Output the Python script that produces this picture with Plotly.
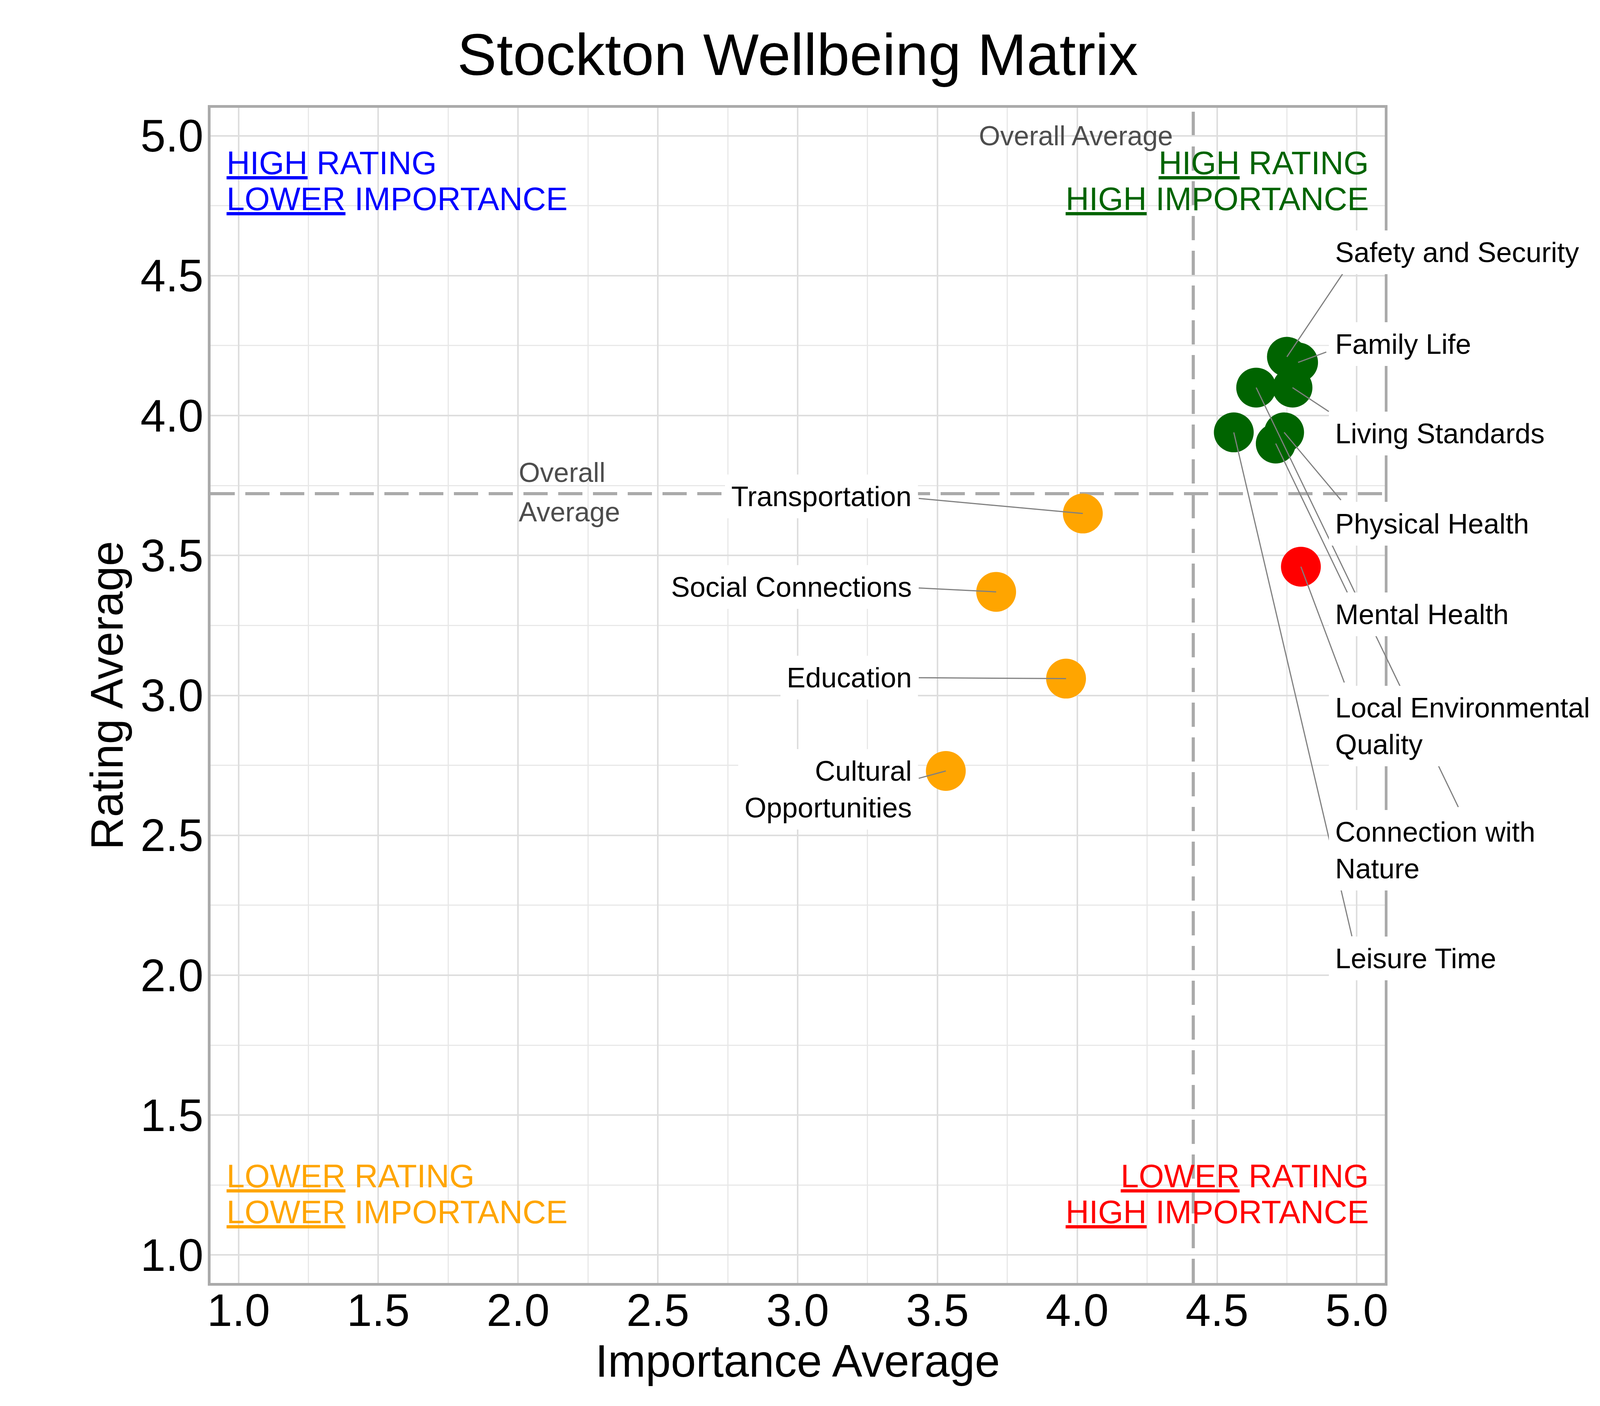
import numpy as np
import plotly.graph_objects as go

# values
categories = ["Safety and Security", "Family Life", "Living Standards", "Connection with Nature",
              "Physical Health", "Mental Health", "Leisure Time", "Local Environmental Quality",
              "Transportation", "Social Connections", "Education", "Cultural Opportunities"]
importance = [4.75, 4.79, 4.77, 4.64, 4.74, 4.71, 4.56, 4.80, 4.02, 3.71, 3.96, 3.53]
rating = [4.21, 4.19, 4.10, 4.10, 3.94, 3.90, 3.94, 3.46, 3.65, 3.37, 3.06, 2.73]

label_text = {
    "Local Environmental Quality": "Local Environmental<br>Quality",
    "Connection with Nature": "Connection with<br>Nature",
    "Cultural Opportunities": "Cultural<br>Opportunities",
}

# label placement (repel-style layout): side, label centre y, segment end (x, y)
label_layout = {
    "Safety and Security": ("right", 4.583, 4.951, 4.509),
    "Family Life": ("right", 4.256, 4.893, 4.228),
    "Living Standards": ("right", 3.936, 4.902, 4.013),
    "Connection with Nature": ("right", 2.447, 5.364, 2.599),
    "Physical Health": ("right", 3.613, 4.945, 3.696),
    "Mental Health": ("right", 3.289, 4.967, 3.366),
    "Leisure Time": ("right", 2.060, 4.983, 2.137),
    "Local Environmental Quality": ("right", 2.891, 4.956, 3.044),
    "Transportation": ("left", 3.711, 3.431, 3.704),
    "Social Connections": ("left", 3.387, 3.431, 3.384),
    "Education": ("left", 3.064, 3.431, 3.063),
    "Cultural Opportunities": ("left", 2.665, 3.431, 2.703),
}

FONT = "Liberation Sans, Arial, sans-serif"
avg_x = float(np.mean(importance))
avg_y = float(np.mean(rating))


def quad_colour(x, y):
    if x >= avg_x and y >= avg_y:
        return "#006400"
    if x >= avg_x:
        return "#FF0000"
    if y >= avg_y:
        return "#0000FF"
    return "#FFA500"


colours = [quad_colour(x, y) for x, y in zip(importance, rating)]

fig = go.Figure()
fig.add_trace(go.Scatter(
    x=importance, y=rating, mode="markers",
    marker=dict(size=102, color=colours, line=dict(width=0)),
    hoverinfo="skip", showlegend=False,
))

dash = "62px,27px"
fig.add_shape(type="line", x0=avg_x, x1=avg_x, y0=0, y1=1, xref="x", yref="paper",
              line=dict(color="#AAAAAA", width=8, dash=dash), layer="below")
fig.add_shape(type="line", x0=0, x1=1, y0=avg_y, y1=avg_y, xref="paper", yref="y",
              line=dict(color="#AAAAAA", width=8, dash=dash), layer="below")

annotations = []
# connector segments first so label boxes sit on top of them
for cat, x, y in zip(categories, importance, rating):
    side, ly, sx, sy = label_layout[cat]
    annotations.append(dict(
        x=x, y=y, ax=sx, ay=sy, xref="x", yref="y", axref="x", ayref="y",
        text="", showarrow=True, arrowhead=0, arrowwidth=3, arrowcolor="#808080",
    ))
for cat in categories:
    side, ly, sx, sy = label_layout[cat]
    annotations.append(dict(
        x=4.90 if side == "right" else 3.43, y=ly, xref="x", yref="y",
        text=label_text.get(cat, cat), showarrow=False,
        xanchor="left" if side == "right" else "right", yanchor="middle",
        align="left" if side == "right" else "right",
        font=dict(family=FONT, size=72, color="black"),
        bgcolor="white", borderpad=16, borderwidth=0,
    ))

# quadrant captions
quads = [
    ("<u>HIGH</u> RATING", 0.955, 4.902, "left", "#0000FF"),
    ("<u>LOWER</u> IMPORTANCE", 0.955, 4.774, "left", "#0000FF"),
    ("<u>HIGH</u> RATING", 5.045, 4.902, "right", "#006400"),
    ("<u>HIGH</u> IMPORTANCE", 5.045, 4.774, "right", "#006400"),
    ("<u>LOWER</u> RATING", 0.955, 1.282, "left", "#FFA500"),
    ("<u>LOWER</u> IMPORTANCE", 0.955, 1.154, "left", "#FFA500"),
    ("<u>LOWER</u> RATING", 5.045, 1.282, "right", "#FF0000"),
    ("<u>HIGH</u> IMPORTANCE", 5.045, 1.154, "right", "#FF0000"),
]
for txt, x, y, anc, col in quads:
    annotations.append(dict(x=x, y=y, xref="x", yref="y", text=txt, showarrow=False,
                            xanchor=anc, yanchor="middle",
                            font=dict(family=FONT, size=83, color=col)))

annotations.append(dict(x=avg_x - 0.07, y=5.0, xref="x", yref="y", text="Overall Average",
                        showarrow=False, xanchor="right", yanchor="middle",
                        font=dict(family=FONT, size=70, color="#4D4D4D")))
annotations.append(dict(x=2.0, y=avg_y + 0.076, xref="x", yref="y", text="Overall",
                        showarrow=False, xanchor="left", yanchor="middle",
                        font=dict(family=FONT, size=70, color="#4D4D4D")))
annotations.append(dict(x=2.0, y=avg_y - 0.066, xref="x", yref="y", text="Average",
                        showarrow=False, xanchor="left", yanchor="middle",
                        font=dict(family=FONT, size=70, color="#4D4D4D")))

axis_common = dict(
    range=[0.9, 5.1], tick0=1.0, dtick=0.5, tickformat=".1f",
    showgrid=True, gridcolor="#DEDEDE", gridwidth=4,
    minor=dict(dtick=0.25, tick0=1.0, showgrid=True, gridcolor="#E8E8E8", gridwidth=2.5),
    showline=True, mirror=True, linecolor="#AAAAAA", linewidth=7,
    zeroline=False, ticks="",
    tickfont=dict(family=FONT, size=116, color="black"),
)

fig.update_layout(
    width=4200, height=3600,
    margin=dict(l=531, r=663, t=268, b=323),
    paper_bgcolor="white", plot_bgcolor="white",
    title=dict(text="Stockton Wellbeing Matrix", x=0.5, xref="paper", xanchor="center",
               y=1 - 131 / 3600, yref="container", yanchor="middle",
               font=dict(family=FONT, size=151, color="black")),
    xaxis=dict(axis_common, ticklabelstandoff=-36,
               title=dict(text="Importance Average", standoff=26,
                          font=dict(family=FONT, size=116, color="black"))),
    yaxis=dict(axis_common, ticklabelstandoff=-12,
               title=dict(text="Rating Average", standoff=8,
                          font=dict(family=FONT, size=116, color="black"))),
    annotations=annotations,
)

fig.write_html("out.html")
